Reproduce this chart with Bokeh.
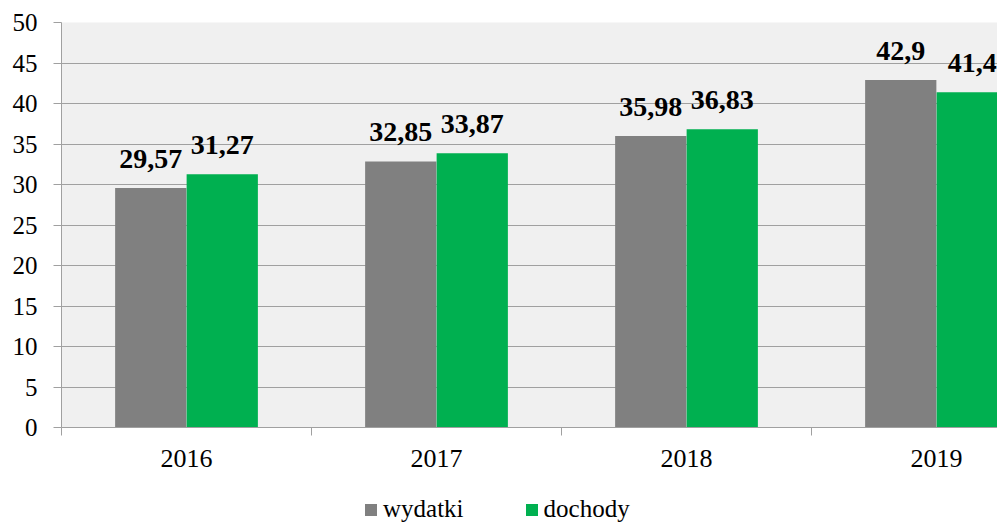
from bokeh.plotting import figure
from bokeh.models import ColumnDataSource, FixedTicker, Legend, LegendItem, Range1d
from bokeh.layouts import column
from bokeh.embed import file_html
from bokeh.resources import INLINE
from bokeh.core.properties import value

years = ["2016", "2017", "2018", "2019"]
wydatki = [29.57, 32.85, 35.98, 42.9]
dochody = [31.27, 33.87, 36.83, 41.4]
wydatki_labels = ["29,57", "32,85", "35,98", "42,9"]
dochody_labels = ["31,27", "33,87", "36,83", "41,4"]
series_names = ["wydatki", "dochody"]
y_ticks = [0, 5, 10, 15, 20, 25, 30, 35, 40, 45, 50]

GRAY = "#808080"
GREEN = "#00b050"
FONT = "Liberation Serif"

idx = list(range(len(years)))
bar_w = 0.285
off = 0.143

src_w = ColumnDataSource(dict(x=[i - off for i in idx], top=wydatki, lab=wydatki_labels))
src_d = ColumnDataSource(dict(x=[i + off for i in idx], top=dochody, lab=dochody_labels))

p = figure(frame_width=936, frame_height=405, output_backend="svg", toolbar_location=None,
           x_range=Range1d(-0.5, -0.5 + 936 / 250), y_range=Range1d(0, 50),
           min_border_left=61, min_border_top=22, min_border_right=0, min_border_bottom=62)
p.background_fill_color = "#f0f0f0"
p.border_fill_color = "white"
p.outline_line_color = None

p.vbar(x="x", top="top", width=bar_w, source=src_w, fill_color=GRAY, line_color=None)
p.vbar(x="x", top="top", width=bar_w, source=src_d, fill_color=GREEN, line_color=None)

for s in (src_w, src_d):
    p.text(x="x", y="top", text="lab", source=s, text_align="center",
           text_baseline="alphabetic", y_offset=-29, text_font=value(FONT),
           text_font_size="28px", text_font_style="bold", text_color="black")

p.xgrid.visible = False
p.ygrid.ticker = FixedTicker(ticks=y_ticks)
p.ygrid.grid_line_color = "#a0a0a0"
p.ygrid.grid_line_width = 1

p.yaxis.ticker = FixedTicker(ticks=y_ticks)
p.yaxis.axis_line_color = "#a0a0a0"
p.yaxis.major_tick_line_color = "#a0a0a0"
p.yaxis.major_tick_out = 8
p.yaxis.major_tick_in = 0
p.yaxis.minor_tick_line_color = None
p.yaxis.major_label_text_font = FONT
p.yaxis.major_label_text_font_size = "25px"
p.yaxis.major_label_text_color = "black"
p.yaxis.major_label_standoff = 16

p.xaxis.ticker = FixedTicker(ticks=idx, minor_ticks=[-0.5, 0.5, 1.5, 2.5, 3.5])
p.xaxis.major_label_overrides = {i: y for i, y in zip(idx, years)}
p.xaxis.axis_line_color = "#a0a0a0"
p.xaxis.major_tick_line_color = None
p.xaxis.major_tick_out = 0
p.xaxis.major_tick_in = 0
p.xaxis.minor_tick_line_color = "#a0a0a0"
p.xaxis.minor_tick_out = 8
p.xaxis.minor_tick_in = 0
p.xaxis.major_label_text_font = FONT
p.xaxis.major_label_text_font_size = "26px"
p.xaxis.major_label_text_color = "black"
p.xaxis.major_label_standoff = 14

# legend strip (proxy renderers with zero-height bars, only used for legend swatches)
lg = figure(width=997, height=35, output_backend="svg", toolbar_location=None,
            x_range=Range1d(0, 1), y_range=Range1d(0, 1),
            min_border_left=0, min_border_right=0, min_border_top=0, min_border_bottom=0)
lg.axis.visible = False
lg.grid.visible = False
lg.outline_line_color = None
lr1 = lg.vbar(x=[0], top=[0], width=0.0, fill_color=GRAY, line_color=None)
lr2 = lg.vbar(x=[0], top=[0], width=0.0, fill_color=GREEN, line_color=None)

legend = Legend(items=[LegendItem(label=series_names[0], renderers=[lr1]),
                       LegendItem(label=series_names[1], renderers=[lr2])],
                orientation="horizontal", location=(302, 1))
legend.label_text_font = FONT
legend.label_text_font_size = "25px"
legend.label_text_color = "black"
legend.border_line_color = None
legend.background_fill_alpha = 0
legend.glyph_width = 15
legend.glyph_height = 15
legend.label_standoff = 5
legend.spacing = 60
legend.padding = 0
legend.margin = 0
legend.label_height = 20
lg.add_layout(legend, "center")

layout = column(p, lg, spacing=0)
open("out.html", "w").write(file_html(layout, INLINE))
